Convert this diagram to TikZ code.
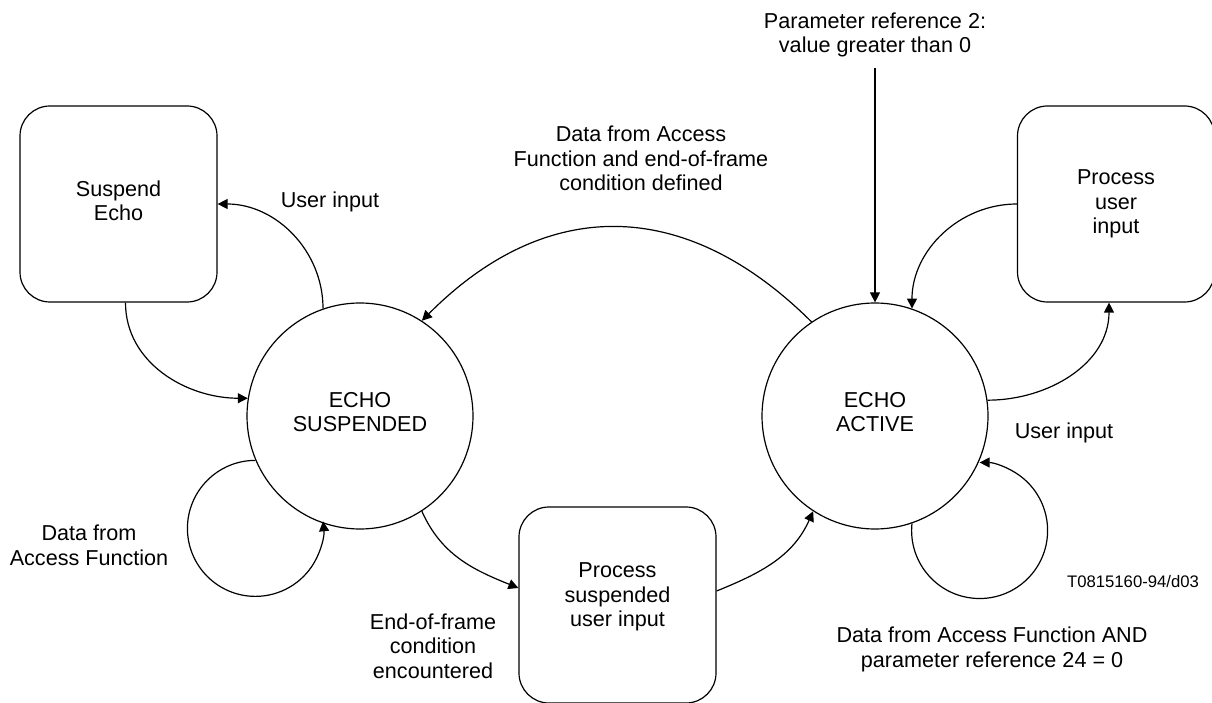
\documentclass[tikz,border=0pt]{standalone}
\usepackage{fontspec}
\setmainfont{Liberation Sans}
\usetikzlibrary{arrows.meta}

\begin{document}
\begin{tikzpicture}[x=1pt,y=1pt,
  every node/.style={font=\fontsize{21.6}{24.5}\selectfont, align=center, inner sep=0pt},
  state/.style={draw, circle, line width=1.2pt, minimum size=226pt, text depth=8pt},
  proc/.style={draw, rectangle, rounded corners=30pt, line width=1.2pt,
               minimum width=197pt, minimum height=196pt},
  lbl/.style={anchor=base},
  arr/.style={line width=1.2pt, -{Triangle[length=10pt,width=10pt]}},
  tag/.style={anchor=base, font=\fontsize{16.7}{19}\selectfont}]

\useasboundingbox (0,0) rectangle (1212,702);

% states
\node[state] (echoS) at (360,286) {ECHO\\SUSPENDED};
\node[state] (echoA) at (875,286) {ECHO\\ACTIVE};

% processing boxes
\node[proc, text depth=7pt]    (susp)  at (118.5,498) {Suspend\\Echo};
\node[proc, text depth=20.5pt] (procS) at (617.5,97)  {Process\\suspended\\user input};
\node[proc]                    (procU) at (1116,498)  {Process\\user\\input};

% transition labels (placed by the baseline of their last line)
\node[lbl] (lUserS) at (330,494)  {User input};
\node[lbl] (lData)  at (89,137)   {Data from\\Access Function};
\node[lbl] (lEnd)   at (433,24)   {End-of-frame\\condition\\encountered};
\node[lbl] (lDef)   at (641,511)  {Data from Access\\Function and end-of-frame\\condition defined};
\node[lbl] (lPar)   at (875,649)  {Parameter reference 2:\\value greater than 0};
\node[lbl] (lUserA) at (1064,263) {User input};
\node[lbl] (lAnd)   at (992,35)   {Data from Access Function AND\\parameter reference 24 = 0};
\node[tag] (ref)    at (1133,115) {T0815160-94/d03};

\coordinate (pin) at (875,634);

% ECHO SUSPENDED side
\draw[arr] (echoS.109.5) to[out=90,in=0] (susp.east);
\draw[arr] ([xshift=7pt]susp.south) to[out=-90,in=180] (echoS.171.4);
\draw[arr] (echoS.203.5) arc[start angle=90,end angle=366,radius=68];
\draw[arr] (echoS.-57.6) to[out=-66,in=158] ([yshift=17pt]procS.west);

% towards ECHO ACTIVE
\draw[arr] ([yshift=14pt]procS.east) to[out=22,in=-114] (echoA.237.4);
\draw[arr] (pin) -- (echoA.north);
\draw[arr] (echoA.124.2) .. controls (686,505) and (547,507) .. (echoS.57.1);

% ECHO ACTIVE side
\draw[arr] (procU.west) to[out=180,in=90] (echoA.71);
\draw[arr] (echoA.8.6) to[out=0,in=-90] ([xshift=-7pt]procU.south);
\draw[arr] (echoA.289.1) arc[start angle=174,end angle=450,radius=68];

\end{tikzpicture}
\end{document}
